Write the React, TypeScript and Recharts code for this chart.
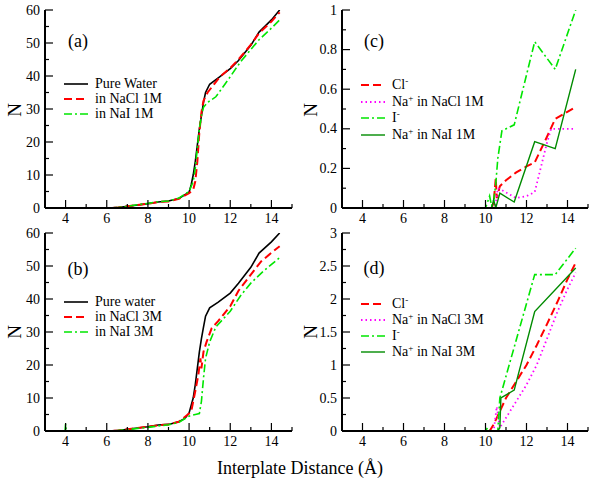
import React from 'react';
import { LineChart, Line, XAxis, YAxis } from 'recharts';

type P = [number, number];

// ---------- tick values ----------
const xTicks = [3, 4, 5, 6, 7, 8, 9, 10, 11, 12, 13, 14, 15];
const abYTicks = [0, 5, 10, 15, 20, 25, 30, 35, 40, 45, 50, 55, 60];
const cYTicks = [0, 0.1, 0.2, 0.3, 0.4, 0.5, 0.6, 0.7, 0.8, 0.9, 1];
const dYTicks = [0, 0.25, 0.5, 0.75, 1, 1.25, 1.5, 1.75, 2, 2.25, 2.5, 2.75, 3];

// ---------- panel (a) ----------
const aPureWater: P[] = [[4,0],[6,0],[6.5,0.1],[7,0.5],[7.5,0.9],[8,1.3],[8.5,1.8],[9,2.1],[9.5,2.9],[10,4.8],[10.1,7],[10.2,10],[10.3,14],[10.4,19],[10.5,24],[10.6,28],[10.7,32],[10.8,35],[11,37.5],[11.5,39.8],[12,42.2],[12.4,44.7],[13,49.3],[13.4,53.3],[14,57],[14.4,60]];
const aNaCl1M: P[] = [[4,0],[6,0],[6.5,0.1],[7,0.5],[7.5,0.9],[8,1.3],[8.5,1.8],[9,2.0],[9.5,2.8],[10,4.5],[10.2,5.5],[10.3,8],[10.4,14],[10.5,23],[10.6,29],[10.7,32.5],[10.9,35],[11.5,39.8],[12,42.4],[12.4,45],[13,49.5],[13.4,53],[14,56.5],[14.4,59.3]];
const aNaI1M: P[] = [[4,0],[6,0],[6.5,0.1],[7,0.5],[7.5,1.0],[8,1.4],[8.5,1.9],[9,2.1],[9.5,3.0],[10,5],[10.2,8],[10.3,12],[10.4,18],[10.5,24],[10.6,28],[10.7,30.5],[10.9,32],[11.3,33.7],[12,39.8],[12.5,44.3],[13.4,51],[14,54.5],[14.4,57]];

// ---------- panel (b) ----------
const bPureWater: P[] = [[4,0],[6,0],[6.5,0.1],[7,0.5],[7.5,0.9],[8,1.3],[8.5,1.8],[9,2.0],[9.5,2.8],[9.8,3.8],[10,5.5],[10.2,10],[10.3,14],[10.4,19],[10.5,24],[10.6,28],[10.7,31.5],[10.8,34.8],[11,37.3],[11.4,39],[12,41.8],[12.4,44.8],[13,49.6],[13.4,53.9],[14,57.3],[14.4,60]];
const bNaCl3M: P[] = [[4,0],[6,0],[6.5,0.1],[7,0.5],[7.5,0.9],[8,1.3],[8.5,1.7],[9,2.0],[9.5,2.8],[10,5.3],[10.1,5.8],[10.3,12],[10.45,17],[10.55,22],[10.6,19],[10.7,24],[10.85,27],[11.1,31.2],[11.4,33.2],[12,37.8],[12.4,42.5],[13,47.4],[13.5,51.4],[14,54],[14.4,56]];
const bNaI3M: P[] = [[3.97,0],[4,2.2],[4.03,0],[6,0],[6.5,0.1],[7,0.4],[7.5,0.8],[8,1.1],[8.5,1.5],[9,1.9],[9.5,2.6],[10,4.5],[10.3,5],[10.5,5.3],[10.6,9],[10.7,16],[10.8,22],[11,27],[11.3,31.5],[12,36.3],[12.5,41],[13,44.8],[13.6,48.4],[14.4,52.5]];

// ---------- panel (c) ----------
const cCl: P[] = [[9,0],[10,0],[10.3,0],[10.4,0.03],[10.5,0.15],[10.55,0.05],[10.7,0.11],[11,0.14],[11.5,0.18],[12,0.21],[12.4,0.23],[13,0.36],[13.4,0.45],[14.4,0.51]];
const cNaInNaCl: P[] = [[9,0],[10.4,0],[10.5,0.02],[10.6,0.1],[10.8,0.09],[11.5,0.05],[12,0.06],[12.4,0.08],[13,0.33],[13.2,0.4],[14.4,0.4]];
const cI: P[] = [[9,0],[10,0],[10.1,0.03],[10.2,0.06],[10.3,0.01],[10.4,0.04],[10.5,0.12],[10.6,0.25],[10.8,0.39],[11.4,0.42],[12.4,0.84],[13.4,0.7],[14.4,1.0]];
const cNaInNaI: P[] = [[9,0],[10.3,0],[10.4,0.04],[10.5,0],[10.7,0.075],[11.4,0.03],[12.4,0.335],[13.4,0.3],[14.4,0.7]];

// ---------- panel (d) ----------
const dCl: P[] = [[9,0],[10.2,0],[10.4,0.1],[10.7,0.3],[11,0.5],[11.5,0.75],[12,1.0],[12.5,1.3],[13,1.62],[13.5,1.95],[14,2.3],[14.4,2.55]];
const dNaInNaCl: P[] = [[9,0],[10.4,0],[10.55,0.37],[10.7,0.05],[11,0.2],[11.5,0.45],[12,0.7],[12.5,1.0],[13,1.4],[13.5,1.8],[14,2.15],[14.4,2.4]];
const dI: P[] = [[9,0],[10,0],[10.1,0.05],[10.2,0],[10.6,0],[10.7,0.5],[12.4,2.37],[13.4,2.37],[14.4,2.77]];
const dNaInNaI: P[] = [[9,0],[10.6,0],[10.7,0.05],[10.75,0.5],[11.4,0.62],[12.4,1.81],[14.4,2.47]];

const FONT = 'Liberation Serif, DejaVu Serif, serif';

type Style = { stroke: string; width: number; dash?: string };
const S_BLACK: Style = { stroke: '#000000', width: 1.6 };
const S_RED: Style = { stroke: '#ff0000', width: 2, dash: '8 4' };
const S_GREEN: Style = { stroke: '#00e600', width: 1.6, dash: '8 3 2 3' };
const S_MAG: Style = { stroke: '#ff00ff', width: 1.8, dash: '1.5 3' };
const S_DKGREEN: Style = { stroke: '#008b00', width: 1.4 };

type Series = { name: string; pts: P[]; style: Style };

const toData = (pts: P[]) => pts.map(([x, y]) => ({ x, y }));

const fmt = (v: number) => String(Math.round(v * 100) / 100);

function makeTick(side: 'bottom' | 'top' | 'left' | 'right', majorStep: number, label: boolean) {
  return (props: any) => {
    const { x, y, payload } = props;
    const v = payload.value as number;
    const r = v / majorStep;
    const major = Math.abs(r - Math.round(r)) < 1e-6;
    const len = major ? 8 : 4;
    let line: React.ReactNode = null;
    let text: React.ReactNode = null;
    if (side === 'bottom') {
      line = <line x1={x} y1={y} x2={x} y2={y - len} stroke="#000" strokeWidth={1.2} />;
      if (label && major)
        text = <text x={x} y={y + 15} textAnchor="middle" fontFamily={FONT} fontSize={14} fill="#000">{fmt(v)}</text>;
    } else if (side === 'top') {
      line = <line x1={x} y1={y} x2={x} y2={y + len} stroke="#000" strokeWidth={1.2} />;
    } else if (side === 'left') {
      line = <line x1={x} y1={y} x2={x + len} y2={y} stroke="#000" strokeWidth={1.2} />;
      if (label && major)
        text = <text x={x - 5} y={y + 4.5} textAnchor="end" fontFamily={FONT} fontSize={14} fill="#000">{fmt(v)}</text>;
    } else {
      line = <line x1={x} y1={y} x2={x - len} y2={y} stroke="#000" strokeWidth={1.2} />;
    }
    return <g>{line}{text}</g>;
  };
}

type PanelProps = {
  left: number; top: number; yAxisWidth: number; rightMargin: number;
  yDomain: [number, number]; yTicks: number[]; yMajor: number; series: Series[];
};

function Panel({ left, top, yAxisWidth, rightMargin, yDomain, yTicks, yMajor, series }: PanelProps) {
  const axisLine = { stroke: '#000', strokeWidth: 2 };
  return (
    <div style={{ position: 'absolute', left, top }}>
      <LineChart width={300} height={230} margin={{ top: 10, right: rightMargin, left: 0, bottom: 0 }}>
        <XAxis xAxisId="b" type="number" dataKey="x" domain={[3, 15]} ticks={xTicks} interval={0}
          allowDataOverflow height={22} tickLine={false} tickSize={0} tickMargin={0} axisLine={axisLine}
          tick={makeTick('bottom', 2, true)} />
        <XAxis xAxisId="t" orientation="top" type="number" dataKey="x" domain={[3, 15]} ticks={xTicks} interval={0}
          allowDataOverflow height={0} tickLine={false} tickSize={0} tickMargin={0} axisLine={axisLine}
          tick={makeTick('top', 2, false)} />
        <YAxis yAxisId="l" type="number" domain={yDomain} ticks={yTicks} interval={0} allowDataOverflow
          width={yAxisWidth} tickLine={false} tickSize={0} tickMargin={0} axisLine={axisLine}
          tick={makeTick('left', yMajor, true)} />
        <YAxis yAxisId="r" orientation="right" type="number" domain={yDomain} ticks={yTicks} interval={0} allowDataOverflow
          width={0} tickLine={false} tickSize={0} tickMargin={0} axisLine={axisLine}
          tick={makeTick('right', yMajor, false)} />
        {series.map((s) => (
          <Line key={s.name} xAxisId="b" yAxisId="l" data={toData(s.pts)} dataKey="y" type="linear"
            stroke={s.style.stroke} strokeWidth={s.style.width} strokeDasharray={s.style.dash}
            dot={false} activeDot={false} isAnimationActive={false} />
        ))}
      </LineChart>
    </div>
  );
}

function LegendRow({ x, y, style, children }: { x: number; y: number; style: Style; children: React.ReactNode }) {
  return (
    <div style={{ position: 'absolute', left: x, top: y - 8, height: 16, display: 'flex', alignItems: 'center',
      whiteSpace: 'nowrap', fontFamily: FONT, fontSize: 14, color: '#000', lineHeight: '16px' }}>
      <svg width={24} height={16} style={{ display: 'block' }}>
        <line x1={0} y1={8} x2={24} y2={8} stroke={style.stroke} strokeWidth={style.width} strokeDasharray={style.dash} />
      </svg>
      <span style={{ marginLeft: 7 }}>{children}</span>
    </div>
  );
}

const Sup = ({ c }: { c: string }) => (
  <span style={{ fontSize: 9, lineHeight: '9px', position: 'relative', top: -5 }}>{c}</span>
);

function TextAt({ x, y, size, children, rotate }: { x: number; y: number; size: number; children: React.ReactNode; rotate?: boolean }) {
  return (
    <div style={{ position: 'absolute', left: x, top: y, transform: `translate(-50%, -50%)${rotate ? ' rotate(-90deg)' : ''}`,
      fontFamily: FONT, fontSize: size, whiteSpace: 'nowrap', color: '#000', lineHeight: 1 }}>
      {children}
    </div>
  );
}

export default function App() {
  const seriesA: Series[] = [
    { name: 'Pure Water', pts: aPureWater, style: S_BLACK },
    { name: 'in NaCl 1M', pts: aNaCl1M, style: S_RED },
    { name: 'in NaI 1M', pts: aNaI1M, style: S_GREEN },
  ];
  const seriesB: Series[] = [
    { name: 'Pure water', pts: bPureWater, style: S_BLACK },
    { name: 'in NaCl 3M', pts: bNaCl3M, style: S_RED },
    { name: 'in NaI 3M', pts: bNaI3M, style: S_GREEN },
  ];
  const seriesC: Series[] = [
    { name: 'Cl-', pts: cCl, style: S_RED },
    { name: 'Na+ NaCl', pts: cNaInNaCl, style: S_MAG },
    { name: 'I-', pts: cI, style: S_GREEN },
    { name: 'Na+ NaI', pts: cNaInNaI, style: S_DKGREEN },
  ];
  const seriesD: Series[] = [
    { name: 'Cl-', pts: dCl, style: S_RED },
    { name: 'Na+ NaCl', pts: dNaInNaCl, style: S_MAG },
    { name: 'I-', pts: dI, style: S_GREEN },
    { name: 'Na+ NaI', pts: dNaInNaI, style: S_DKGREEN },
  ];
  return (
    <div style={{ position: 'absolute', left: 0, top: 0, width: 600, height: 488, background: '#fff', overflow: 'hidden' }}>
      <Panel left={0} top={0} yAxisWidth={45} rightMargin={8} yDomain={[0, 60]} yTicks={abYTicks} yMajor={10} series={seriesA} />
      <Panel left={0} top={223} yAxisWidth={45} rightMargin={8} yDomain={[0, 60]} yTicks={abYTicks} yMajor={10} series={seriesB} />
      <Panel left={300} top={0} yAxisWidth={42} rightMargin={12} yDomain={[0, 1]} yTicks={cYTicks} yMajor={0.2} series={seriesC} />
      <Panel left={300} top={223} yAxisWidth={42} rightMargin={12} yDomain={[0, 3]} yTicks={dYTicks} yMajor={0.5} series={seriesD} />

      <TextAt x={14} y={110} size={19} rotate>N</TextAt>
      <TextAt x={14} y={332} size={19} rotate>N</TextAt>
      <TextAt x={310} y={110} size={19} rotate>N</TextAt>
      <TextAt x={310} y={332} size={19} rotate>N</TextAt>

      <TextAt x={78} y={41} size={18}>(a)</TextAt>
      <TextAt x={78} y={269} size={18}>(b)</TextAt>
      <TextAt x={374} y={41} size={18}>(c)</TextAt>
      <TextAt x={374} y={268} size={18}>(d)</TextAt>

      <LegendRow x={64} y={84} style={S_BLACK}>Pure Water</LegendRow>
      <LegendRow x={64} y={99} style={S_RED}>in NaCl 1M</LegendRow>
      <LegendRow x={64} y={114} style={S_GREEN}>in NaI 1M</LegendRow>

      <LegendRow x={64} y={302} style={S_BLACK}>Pure water</LegendRow>
      <LegendRow x={64} y={317} style={S_RED}>in NaCl 3M</LegendRow>
      <LegendRow x={64} y={332} style={S_GREEN}>in NaI 3M</LegendRow>

      <LegendRow x={361} y={85} style={S_RED}>Cl<Sup c="-" /></LegendRow>
      <LegendRow x={361} y={102} style={S_MAG}>Na<Sup c="+" /> in NaCl 1M</LegendRow>
      <LegendRow x={361} y={118} style={S_GREEN}>I<Sup c="-" /></LegendRow>
      <LegendRow x={361} y={135} style={S_DKGREEN}>Na<Sup c="+" /> in NaI 1M</LegendRow>

      <LegendRow x={361} y={304} style={S_RED}>Cl<Sup c="-" /></LegendRow>
      <LegendRow x={361} y={320} style={S_MAG}>Na<Sup c="+" /> in NaCl 3M</LegendRow>
      <LegendRow x={361} y={336} style={S_GREEN}>I<Sup c="-" /></LegendRow>
      <LegendRow x={361} y={352} style={S_DKGREEN}>Na<Sup c="+" /> in NaI 3M</LegendRow>

      <TextAt x={300} y={468} size={18}>Interplate Distance (Å)</TextAt>
    </div>
  );
}
